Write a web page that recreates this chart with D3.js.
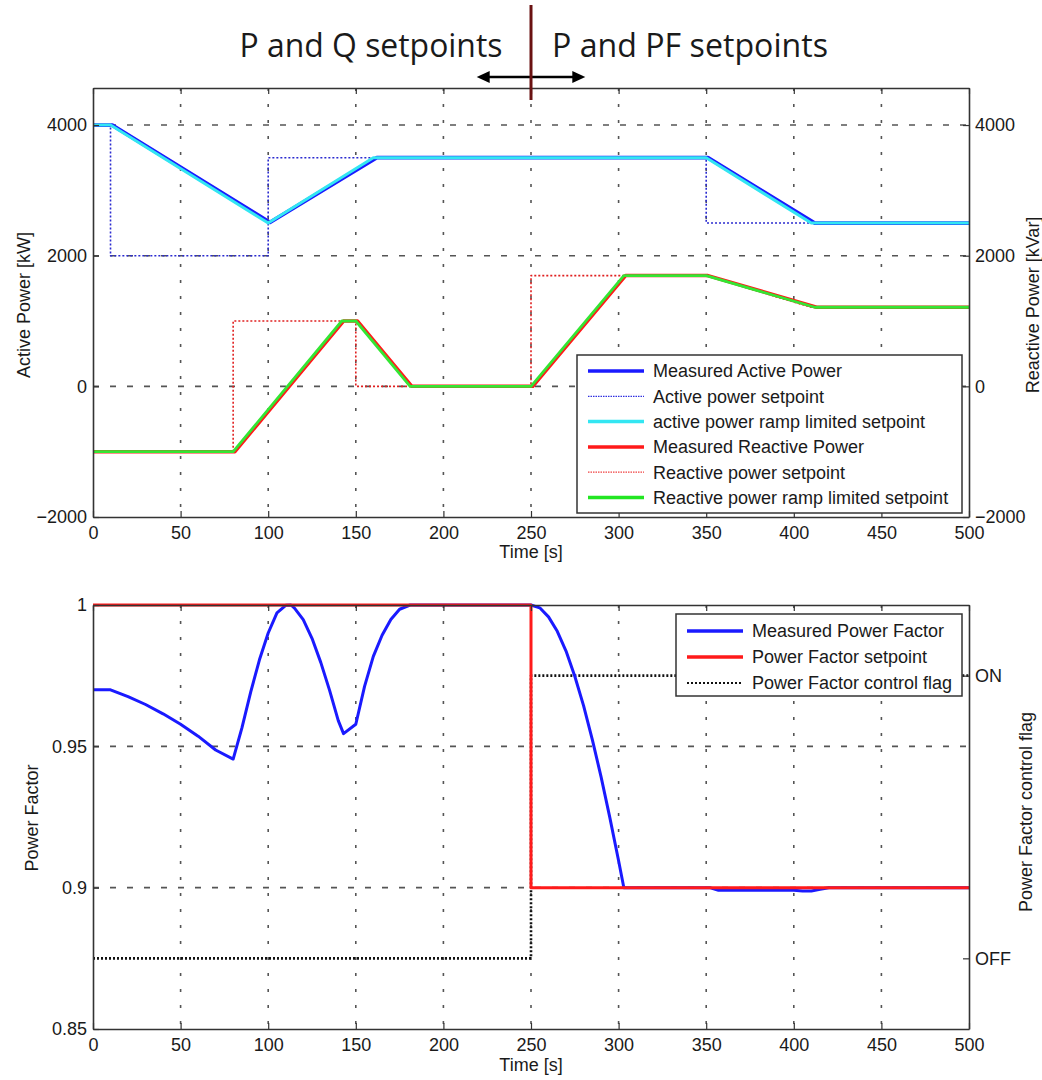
<!DOCTYPE html>
<html>
<head>
<meta charset="utf-8">
<script src="https://cdn.jsdelivr.net/npm/d3@7"></script>
<style>
body { margin: 0; background: #fff; }
text { font-family: "Liberation Sans", Arial, sans-serif; fill: #1a1a1a; }
</style>
</head>
<body>
<div id="chart"></div>
<script>
// time axis
const timeTicks = [0, 50, 100, 150, 200, 250, 300, 350, 400, 450, 500];
const powerTicks = [-2000, 0, 2000, 4000];
const pfTicks = [0.85, 0.9, 0.95, 1];
const flagTicks = [0, 1];
const flagLabels = ["OFF", "ON"];

// top panel series (time [s], value)
const activeSetT = [0, 10, 10, 100, 100, 350, 350, 500];
const activeSetV = [4000, 4000, 2000, 2000, 3500, 3500, 2500, 2500];
const activeRampT = [0, 10, 100, 160, 350, 410, 500];
const activeRampV = [4000, 4000, 2500, 3500, 3500, 2500, 2500];
const activeMeasT = [0, 11, 101, 162, 351, 412, 500];
const activeMeasV = [4000, 4000, 2510, 3500, 3500, 2500, 2500];

const reactSetT = [0, 80, 80, 150, 150, 250, 250, 350, 410, 500];
const reactSetV = [-1000, -1000, 1000, 1000, 0, 0, 1695, 1695, 1211, 1211];
const reactRampT = [0, 80, 142, 150, 181, 250, 303, 350, 412, 500];
const reactRampV = [-1000, -1000, 1000, 1000, 0, 0, 1695, 1695, 1211, 1211];
const reactMeasT = [0, 81, 143, 151, 182, 251, 304, 351, 413, 500];
const reactMeasV = [-1000, -1000, 1000, 1000, 0, 0, 1695, 1695, 1211, 1211];

// bottom panel series
const pfT = [0, 10, 20, 30, 40, 50, 60, 70, 80, 85, 90, 95, 100, 105, 110, 113, 115, 120, 125, 130, 135, 140, 143, 150,
  155, 160, 165, 170, 175, 181, 250, 255, 260, 265, 270, 275, 280, 285, 290, 295, 300, 303, 352, 357, 400, 405, 410, 415, 420, 500];
const pfV = [0.970, 0.970, 0.9676, 0.9648, 0.9615, 0.9578, 0.9536, 0.9487, 0.9455, 0.9565, 0.9692, 0.9806, 0.9901, 0.9972,
  0.9999, 1.0, 0.9989, 0.9948, 0.9882, 0.9797, 0.9699, 0.9591, 0.9545, 0.9578, 0.9712, 0.9818, 0.9893, 0.9949, 0.9985, 1.0,
  1.0, 0.9990, 0.9958, 0.9907, 0.9837, 0.9748, 0.9644, 0.9524, 0.9392, 0.9248, 0.9095, 0.900, 0.900, 0.8991, 0.8991, 0.8988,
  0.8988, 0.8994, 0.900, 0.900];
const pfSetT = [0, 250, 250, 500];
const pfSetV = [1, 1, 0.9, 0.9];
const flagT = [0, 250, 250, 500];
const flagV = [0, 0, 1, 1];

const zip = (t, v) => t.map((d, i) => [d, v[i]]);

const svg = d3.select("#chart").append("svg")
    .attr("width", 1042)
    .attr("height", 1080);

const left = 93, right = 969;
const x = d3.scaleLinear().domain([0, 500]).range([left, right]);

function grid(y, top, bottom, yTicks) {
    const g = svg.append("g");
    g.selectAll(".vgrid")
        .data(timeTicks.slice(1, -1))
        .enter().append("line")
        .attr("x1", d => x(d)).attr("x2", d => x(d))
        .attr("y1", top).attr("y2", bottom)
        .attr("stroke", "#555").attr("stroke-width", 1.6)
        .attr("stroke-dasharray", "3,13");
    g.selectAll(".hgrid")
        .data(yTicks.filter(d => y(d) > top + 1 && y(d) < bottom - 1))
        .enter().append("line")
        .attr("x1", left).attr("x2", right)
        .attr("y1", d => y(d)).attr("y2", d => y(d))
        .attr("stroke", "#555").attr("stroke-width", 1.6)
        .attr("stroke-dasharray", "6,11");
}

function styleAxis(g) {
    g.selectAll("path.domain").attr("stroke", "#333").attr("stroke-width", 1.6);
    g.selectAll(".tick line").attr("stroke", "#333").attr("stroke-width", 1.2);
    g.selectAll(".tick text").attr("font-size", 18).attr("fill", "#1a1a1a")
        .style("font-family", "'Liberation Sans', Arial, sans-serif");
}

function drawFrame(y, top, bottom, yTicks, yFormat) {
    const axes = svg.append("g").attr("class", "axes");
    axes.append("g")
        .attr("transform", "translate(0," + bottom + ")")
        .call(d3.axisBottom(x).tickValues(timeTicks).tickSize(-6).tickPadding(9).tickSizeOuter(0));
    axes.append("g")
        .attr("transform", "translate(0," + top + ")")
        .call(d3.axisTop(x).tickValues(timeTicks).tickSize(-6).tickFormat("").tickSizeOuter(0));
    axes.append("g")
        .attr("transform", "translate(" + left + ",0)")
        .call(d3.axisLeft(y).tickValues(yTicks).tickSize(-6).tickPadding(6).tickSizeOuter(0).tickFormat(yFormat));
    styleAxis(axes);
}

function drawLine(data, y, color, width, dash) {
    const line = d3.line().x(d => x(d[0])).y(d => y(d[1]));
    svg.append("path")
        .datum(data)
        .attr("d", line)
        .attr("fill", "none")
        .attr("stroke", color)
        .attr("stroke-width", width)
        .attr("stroke-dasharray", dash || null)
        .attr("stroke-linejoin", "round");
}

function legend(x0, y0, w, h, items, y1, dy) {
    const g = svg.append("g");
    g.append("rect").attr("x", x0).attr("y", y0).attr("width", w).attr("height", h)
        .attr("fill", "#fff").attr("stroke", "#333").attr("stroke-width", 1.5);
    items.forEach((it, i) => {
        const yy = y1 + i * dy;
        g.append("line").attr("x1", x0 + 11).attr("x2", x0 + 67).attr("y1", yy).attr("y2", yy)
            .attr("stroke", it.color).attr("stroke-width", it.width)
            .attr("stroke-dasharray", it.dash || null);
        g.append("text").attr("x", x0 + 76).attr("y", yy).attr("dy", "0.36em")
            .attr("font-size", 18).text(it.label);
    });
}

// ---------- top panel ----------
const topY = 88, botY = 517;
const yP = d3.scaleLinear().domain([-2000, 4567]).range([botY, topY]);

grid(yP, topY, botY, powerTicks);

drawLine(zip(activeMeasT, activeMeasV), yP, "#1a1aff", 3.8);
drawLine(zip(activeSetT, activeSetV), yP, "#2b2bd0", 1.6, "2,2");
drawLine(zip(activeRampT, activeRampV), yP, "#33e6f2", 3);
drawLine(zip(reactSetT, reactSetV), yP, "#e02020", 1.6, "2,2");
drawLine(zip(reactMeasT, reactMeasV), yP, "#ff1a1a", 3.5);
drawLine(zip(reactRampT, reactRampV), yP, "#33e633", 2.8);

drawFrame(yP, topY, botY, powerTicks, d3.format("d"));
const rTop = svg.append("g").attr("transform", "translate(" + right + ",0)")
    .call(d3.axisRight(yP).tickValues(powerTicks).tickSize(-6).tickPadding(6).tickSizeOuter(0).tickFormat(d3.format("d")));
styleAxis(rTop);

legend(577, 355, 385, 158, [
    {label: "Measured Active Power", color: "#1a1aff", width: 3.5},
    {label: "Active power setpoint", color: "#3030e0", width: 1.2, dash: "1.5,1"},
    {label: "active power ramp limited setpoint", color: "#33e6f2", width: 3.5},
    {label: "Measured Reactive Power", color: "#ff1a1a", width: 3.5},
    {label: "Reactive power setpoint", color: "#f04040", width: 1.2, dash: "1.5,1"},
    {label: "Reactive power ramp limited setpoint", color: "#22e622", width: 3.5}
], 371, 25.3);

svg.append("text").attr("x", (left + right) / 2).attr("y", 558).attr("text-anchor", "middle")
    .attr("font-size", 18).text("Time [s]");
svg.append("text").attr("transform", "translate(30,305) rotate(-90)").attr("text-anchor", "middle")
    .attr("font-size", 18).text("Active Power [kW]");
svg.append("text").attr("transform", "translate(1039,305) rotate(-90)").attr("text-anchor", "middle")
    .attr("font-size", 18).text("Reactive Power [kVar]");

// ---------- bottom panel ----------
const topB = 605, botB = 1029;
const yPF = d3.scaleLinear().domain([0.85, 1]).range([botB, topB]);
const yFlag = d3.scaleLinear().domain([-0.25, 1.25]).range([botB, topB]);

grid(yPF, topB, botB, pfTicks);

drawLine(zip(flagT, flagV), yFlag, "#111", 2.6, "2,2");
drawLine(zip(pfT, pfV), yPF, "#1a1aff", 3);
drawLine(zip(pfSetT, pfSetV), yPF, "#ff1a1a", 3);

drawFrame(yPF, topB, botB, pfTicks, d => d === 1 ? "1" : d3.format("")(d));
const rBot = svg.append("g").attr("transform", "translate(" + right + ",0)")
    .call(d3.axisRight(yFlag).tickValues(flagTicks).tickSize(-6).tickPadding(6).tickSizeOuter(0)
        .tickFormat((d, i) => flagLabels[i]));
styleAxis(rBot);

legend(676, 614, 286, 82, [
    {label: "Measured Power Factor", color: "#1a1aff", width: 3.5},
    {label: "Power Factor setpoint", color: "#ff1a1a", width: 3.5},
    {label: "Power Factor control flag", color: "#111", width: 2, dash: "2,2"}
], 631, 26);

svg.append("text").attr("x", (left + right) / 2).attr("y", 1071).attr("text-anchor", "middle")
    .attr("font-size", 18).text("Time [s]");
svg.append("text").attr("transform", "translate(38,818) rotate(-90)").attr("text-anchor", "middle")
    .attr("font-size", 18).text("Power Factor");
svg.append("text").attr("transform", "translate(1032,812) rotate(-90)").attr("text-anchor", "middle")
    .attr("font-size", 18).text("Power Factor control flag");

// ---------- annotation: mode switch ----------
const switchT = 250;
svg.append("text").attr("x", 371).attr("y", 57).attr("text-anchor", "middle")
    .style("font-family", "'Open Sans', sans-serif").attr("font-size", 33)
    .attr("textLength", 263).attr("lengthAdjust", "spacingAndGlyphs").text("P and Q setpoints");
svg.append("text").attr("x", 690).attr("y", 57).attr("text-anchor", "middle")
    .style("font-family", "'Open Sans', sans-serif").attr("font-size", 33)
    .attr("textLength", 276).attr("lengthAdjust", "spacingAndGlyphs").text("P and PF setpoints");

const ay = 77, ax1 = x(219), ax2 = x(281);
svg.append("line").attr("x1", ax1 + 8).attr("x2", ax2 - 8).attr("y1", ay).attr("y2", ay)
    .attr("stroke", "#000").attr("stroke-width", 2.5);
svg.append("path").attr("d", `M${ax1},${ay} L${ax1 + 13},${ay - 6} L${ax1 + 13},${ay + 6} Z`).attr("fill", "#000");
svg.append("path").attr("d", `M${ax2},${ay} L${ax2 - 13},${ay - 6} L${ax2 - 13},${ay + 6} Z`).attr("fill", "#000");
svg.append("line").attr("x1", x(switchT)).attr("x2", x(switchT)).attr("y1", 5).attr("y2", 100)
    .attr("stroke", "#6a1212").attr("stroke-width", 3);
</script>
</body>
</html>
